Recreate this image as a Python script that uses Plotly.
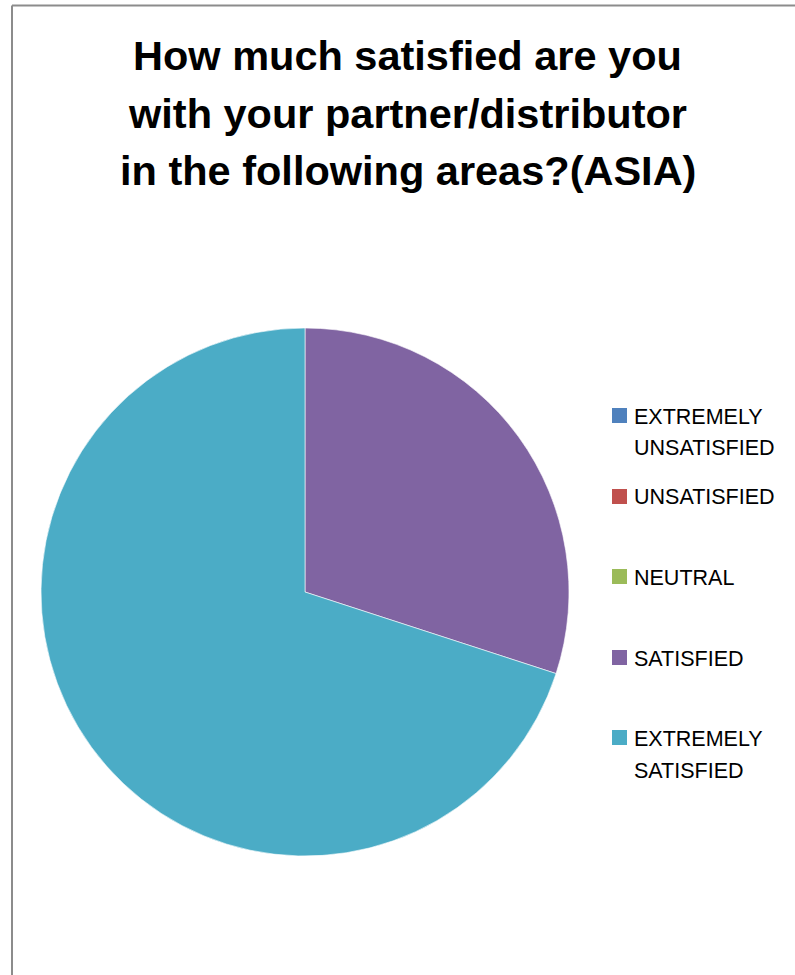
import plotly.graph_objects as go

# Survey responses (ASIA)
categories = ["EXTREMELY<br>UNSATISFIED", "UNSATISFIED", "NEUTRAL", "SATISFIED", "EXTREMELY<br>SATISFIED"]
responses = [0, 0, 0, 3, 7]
colors = ["#4F81BD", "#C0504D", "#9BBB59", "#8064A2", "#4BACC6"]
title_lines = [
    "How much satisfied are you",
    "with your partner/distributor",
    "in the following areas?(ASIA)",
]

W, H = 795, 975


def px(x):
    return x / W


def py(y):
    return 1 - y / H


fig = go.Figure(
    go.Pie(
        labels=[c.replace("<br>", " ") for c in categories],
        values=responses,
        marker=dict(colors=colors, line=dict(color="white", width=0.6)),
        sort=False,
        direction="clockwise",
        rotation=0,
        textinfo="none",
        hoverinfo="label+value+percent",
        showlegend=False,
        domain=dict(x=[px(41), px(569)], y=[py(856), py(328)]),
    )
)

annotations = []
# Chart title, one line per annotation for even spacing
for i, line in enumerate(title_lines):
    annotations.append(dict(
        text="<b>%s</b>" % line, x=px(407.5), y=py(56 + 57.5 * i),
        xref="paper", yref="paper", xanchor="center", yanchor="middle",
        showarrow=False, font=dict(family="Liberation Sans", size=41.5, color="black"),
    ))

# Legend: coloured squares with labels to the right
shapes = []
entry_y = [415.5, 496.5, 576.5, 657.5, 737.5]
for label, color, cy in zip(categories, colors, entry_y):
    shapes.append(dict(
        type="rect", xref="paper", yref="paper",
        x0=px(612), x1=px(627), y0=py(cy + 7.5), y1=py(cy - 7.5),
        fillcolor=color, line=dict(width=0),
    ))
    for j, part in enumerate(label.split("<br>")):
        annotations.append(dict(
            text=part, x=px(632), y=py(cy + 32 * j + 1),
            xref="paper", yref="paper", xanchor="left", yanchor="middle",
            showarrow=False, font=dict(family="Liberation Sans", size=21.5, color="black"),
        ))

# Chart area frame (top and left edges)
shapes.append(dict(type="line", xref="paper", yref="paper",
                   x0=px(12), x1=px(795), y0=py(5.5), y1=py(5.5),
                   line=dict(color="#8c8c8c", width=2)))
shapes.append(dict(type="line", xref="paper", yref="paper",
                   x0=px(12), x1=px(12), y0=py(5.5), y1=py(975),
                   line=dict(color="#8c8c8c", width=2)))

fig.update_layout(
    width=W, height=H,
    margin=dict(l=0, r=0, t=0, b=0),
    paper_bgcolor="white", plot_bgcolor="white",
    annotations=annotations, shapes=shapes,
)

fig.write_html("out.html")
